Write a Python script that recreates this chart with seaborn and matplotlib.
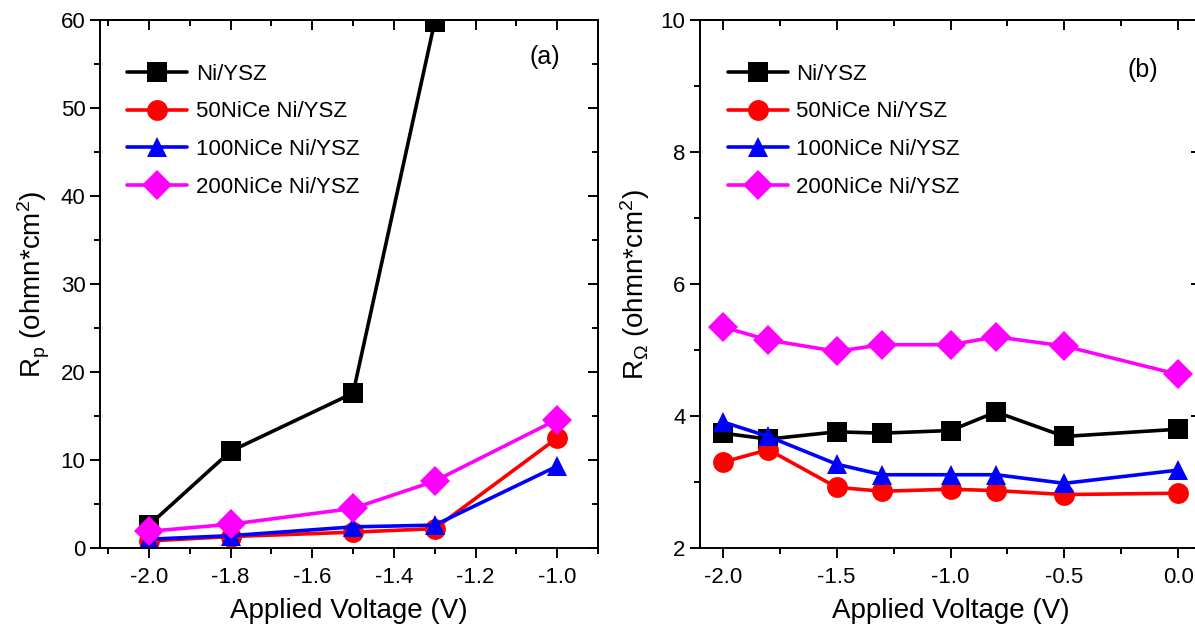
import pandas as pd
import matplotlib.pyplot as plt
import seaborn as sns
from matplotlib.ticker import MultipleLocator

# data
samples = ["Ni/YSZ", "50NiCe Ni/YSZ", "100NiCe Ni/YSZ", "200NiCe Ni/YSZ"]
colors = ["black", "red", "blue", "magenta"]
marker_list = ["s", "o", "^", "D"]

# (a) polarisation resistance
volt_a = [-2.0, -1.8, -1.5, -1.3, -1.0]
rp_ni = [2.6, 11.0, 17.6, 59.8, None]
rp_50 = [0.8, 1.3, 1.8, 2.2, 12.5]
rp_100 = [1.0, 1.4, 2.4, 2.6, 9.3]
rp_200 = [1.9, 2.7, 4.5, 7.6, 14.6]

# (b) ohmic resistance
volt_b = [-2.0, -1.8, -1.5, -1.3, -1.0, -0.8, -0.5, 0.0]
ro_ni = [3.74, 3.65, 3.76, 3.74, 3.78, 4.06, 3.69, 3.80]
ro_50 = [3.30, 3.49, 2.92, 2.86, 2.89, 2.87, 2.81, 2.83]
ro_100 = [3.91, 3.69, 3.27, 3.11, 3.11, 3.11, 2.98, 3.18]
ro_200 = [5.35, 5.15, 4.98, 5.08, 5.08, 5.20, 5.06, 4.63]


def to_long(volts, series):
    rows = []
    for name, vals in zip(samples, series):
        for v, r in zip(volts, vals):
            if r is not None:
                rows.append({"V": v, "R": r, "sample": name})
    return pd.DataFrame(rows)


df_a = to_long(volt_a, [rp_ni, rp_50, rp_100, rp_200])
df_b = to_long(volt_b, [ro_ni, ro_50, ro_100, ro_200])

sns.set_style("ticks")
plt.rcParams["font.family"] = ["Liberation Sans", "DejaVu Sans"]
plt.rcParams["mathtext.fontset"] = "custom"
plt.rcParams["mathtext.rm"] = "Liberation Sans"
plt.rcParams["mathtext.it"] = "Liberation Sans"
plt.rcParams["axes.unicode_minus"] = False
plt.rcParams["text.color"] = "black"
plt.rcParams["axes.labelcolor"] = "black"
plt.rcParams["xtick.color"] = "black"
plt.rcParams["ytick.color"] = "black"
plt.rcParams["axes.edgecolor"] = "black"

fig = plt.figure(figsize=(11.95, 6.25), dpi=100)
ax1 = fig.add_axes([0.0837, 0.1232, 0.4167, 0.8448])
ax2 = fig.add_axes([0.5858, 0.1232, 0.4192, 0.8448])

pal = dict(zip(samples, colors))
mk = dict(zip(samples, marker_list))

limits = {ax1: ((-2.12, -0.9), (0, 60), 0.2, 0.1, 10, 5),
          ax2: ((-2.1, 0.1), (2, 10), 0.5, 0.25, 2, 1)}

for ax, df in [(ax1, df_a), (ax2, df_b)]:
    sns.lineplot(data=df, x="V", y="R", hue="sample", style="sample",
                 hue_order=samples, style_order=samples, palette=pal,
                 markers=mk, dashes=False, sort=False, ax=ax,
                 linewidth=2.6, markersize=15, markeredgewidth=0)
    xl, yl, xmaj, xmin, ymaj, ymin = limits[ax]
    ax.set_xlim(*xl)
    ax.set_ylim(*yl)
    ax.xaxis.set_major_locator(MultipleLocator(xmaj))
    ax.xaxis.set_minor_locator(MultipleLocator(xmin))
    ax.yaxis.set_major_locator(MultipleLocator(ymaj))
    ax.yaxis.set_minor_locator(MultipleLocator(ymin))
    for s in ax.spines.values():
        s.set_linewidth(1.4)
    ax.tick_params(axis="both", which="both", labelsize=16, width=1.4,
                   direction="out")
    ax.tick_params(axis="x", which="major", pad=7)
    ax.tick_params(which="major", length=7)
    ax.tick_params(which="minor", length=4)
    ax.set_xlabel("Applied Voltage (V)", fontsize=20, labelpad=7)
    leg = ax.legend(loc="upper left", frameon=False, fontsize=16,
                    bbox_to_anchor=(0.015, 0.955), handlelength=2.7,
                    handletextpad=0.4, labelspacing=0.75)
    for h in leg.legend_handles:
        h.set_markeredgewidth(0)

    # inward ticks on the top and right sides
    top = ax.secondary_xaxis("top")
    top.xaxis.set_major_locator(MultipleLocator(xmaj))
    top.xaxis.set_minor_locator(MultipleLocator(xmin))
    top.tick_params(which="both", direction="in", labeltop=False, width=1.4)
    top.tick_params(which="major", length=7)
    top.tick_params(which="minor", length=4)
    right = ax.secondary_yaxis("right")
    right.yaxis.set_major_locator(MultipleLocator(ymaj))
    right.yaxis.set_minor_locator(MultipleLocator(ymin))
    right.tick_params(which="both", direction="in", labelright=False, width=1.4)
    right.tick_params(which="major", length=7)
    right.tick_params(which="minor", length=4)
    for s in list(top.spines.values()) + list(right.spines.values()):
        s.set_linewidth(1.4)

ax1.set_ylabel(r"R$_\mathrm{p}$ (ohmn*cm$^2$)", fontsize=20, labelpad=6)
ax1.text(0.894, 0.93, "(a)", transform=ax1.transAxes, fontsize=18,
         ha="center", va="center")

ax2.set_ylabel(r"R$_\Omega$ (ohmn*cm$^2$)", fontsize=20, labelpad=6)
ax2.text(0.884, 0.905, "(b)", transform=ax2.transAxes, fontsize=18,
         ha="center", va="center")

fig.savefig("out.png", dpi=100)
